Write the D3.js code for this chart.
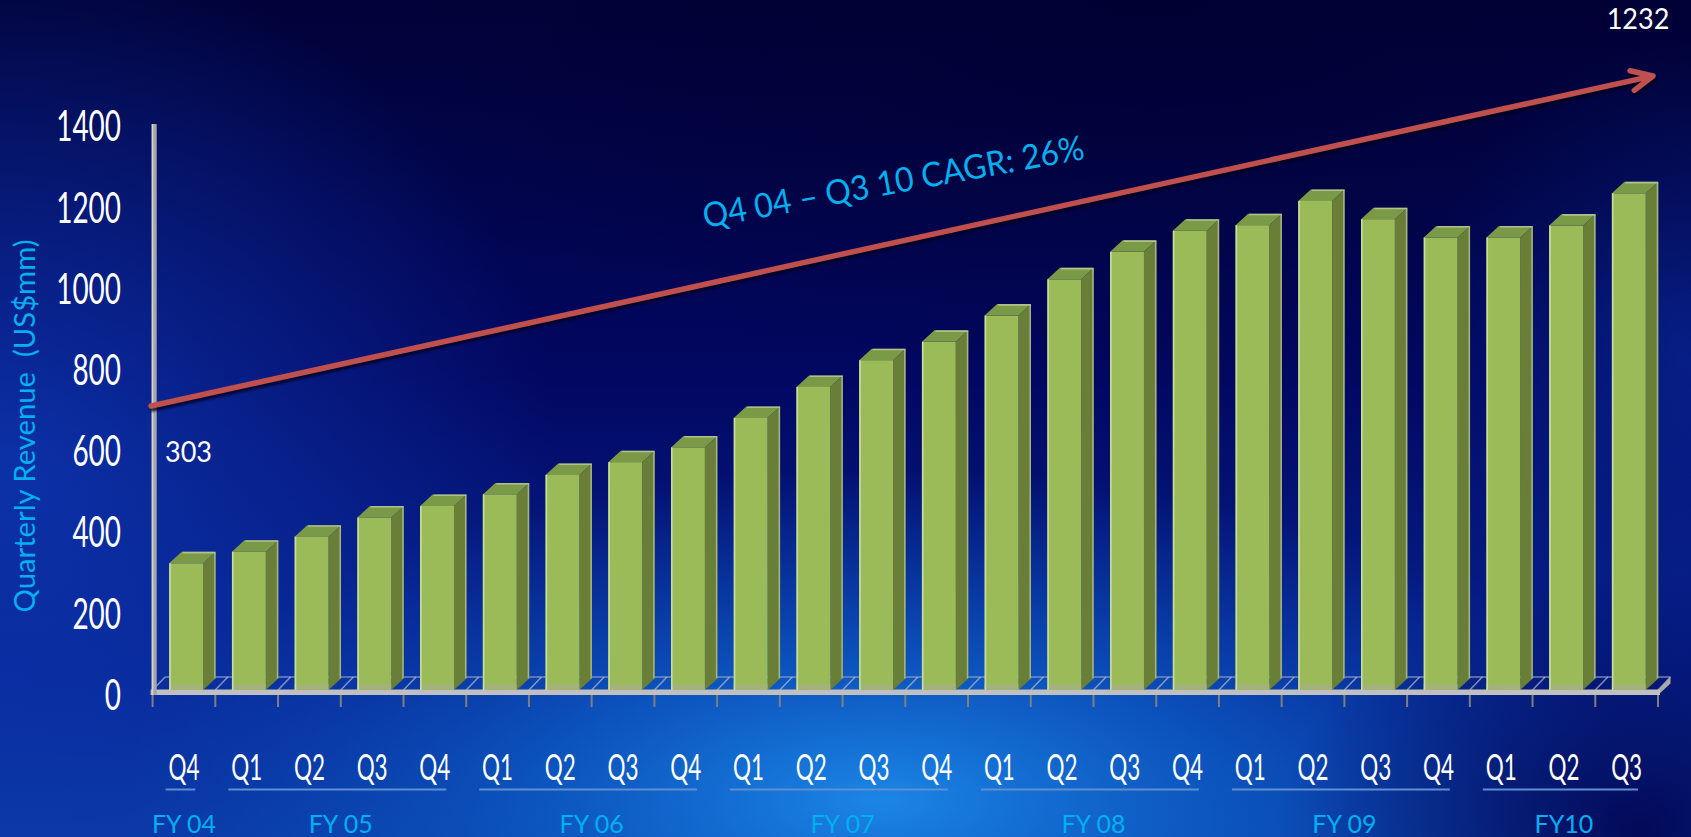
<!DOCTYPE html>
<html>
<head>
<meta charset="utf-8">
<script src="https://cdn.jsdelivr.net/npm/d3@7"></script>
<style>
  html, body { margin: 0; padding: 0; background: #02064f; overflow: hidden; }
  svg { display: block; }
</style>
</head>
<body>
<svg id="chart" width="1691" height="837"></svg>
<script>
// ---- data -------------------------------------------------------------
const quarterLabels = ["Q4",
  "Q1", "Q2", "Q3", "Q4",
  "Q1", "Q2", "Q3", "Q4",
  "Q1", "Q2", "Q3", "Q4",
  "Q1", "Q2", "Q3", "Q4",
  "Q1", "Q2", "Q3", "Q4",
  "Q1", "Q2", "Q3"];
const fiscalYears = ["FY 04", "FY 05", "FY 06", "FY 07", "FY 08", "FY 09", "FY10"];
const quartersPerYear = [1, 4, 4, 4, 4, 4, 3];
// quarterly revenue, US$mm
const revenue = [303,
  332, 370, 418, 447,
  476, 525, 557, 594,
  668, 746, 813, 859,
  925, 1016, 1085, 1138,
  1152, 1213, 1167, 1121,
  1121, 1151, 1232];
const yTicks = [0, 200, 400, 600, 800, 1000, 1200, 1400];
const axisTitle = "Quarterly Revenue  (US$mm)";
const cagrLabel = "Q4 04 \u2013 Q3 10 CAGR: 26%";

// ---- derived records ----------------------------------------------------
const yearOfPeriod = [];
quartersPerYear.forEach((n, g) => { for (let k = 0; k < n; k++) yearOfPeriod.push(g); });
const periods = quarterLabels.map((q, i) => ({
  key: fiscalYears[yearOfPeriod[i]] + " " + q,
  q, fy: yearOfPeriod[i], value: revenue[i]
}));

// ---- layout -------------------------------------------------------------
const W = 1691, H = 837;
const svg = d3.select("#chart");
const defs = svg.append("defs");

const x = d3.scaleBand().domain(periods.map(d => d.key)).range([152.6, 1658]).padding(0);
const y = d3.scaleLinear().domain([0, 1400]).range([684, 126.4]);       // bar front faces
const yWall = d3.scaleLinear().domain([0, 1400]).range([694, 125.5]);   // back-wall labels
const FLOOR = 690;          // front edge of the floor plate
const DX = 12.5, DY = 11.5; // 3-D depth offset
const bw = x.bandwidth();
const barX = d => x(d.key) + bw * 0.265;
const barW = bw * 0.54;

// ---- background ---------------------------------------------------------
function linear(id, stops, x1, y1, x2, y2) {
  const g = defs.append("linearGradient").attr("id", id)
    .attr("gradientUnits", "userSpaceOnUse")
    .attr("x1", x1).attr("y1", y1).attr("x2", x2).attr("y2", y2);
  stops.forEach(s => g.append("stop").attr("offset", s[0]).attr("stop-color", s[1]).attr("stop-opacity", s[2] ?? 1));
}
function radial(id, cx, cy, rx, ry, stops) {
  const g = defs.append("radialGradient").attr("id", id)
    .attr("gradientUnits", "userSpaceOnUse")
    .attr("cx", 0).attr("cy", 0).attr("r", 1)
    .attr("gradientTransform", `translate(${cx},${cy}) scale(${rx},${ry})`);
  stops.forEach(s => g.append("stop").attr("offset", s[0]).attr("stop-color", s[1]).attr("stop-opacity", s[2]));
}
linear("bgBase", [[0, "#010239"], [0.45, "#020761"], [0.8, "#06228f"], [1, "#0a3aa4"]], 0, 0, 0, H);
radial("glowLeft", 0, 470, 560, 520, [[0, "#0e3ab6", 0.8], [1, "#0e3ab6", 0]]);
radial("glowBottom", 880, 800, 760, 330, [[0, "#1b86e6", 1], [0.45, "#0d5fc8", 0.75], [1, "#0a4ab8", 0]]);
radial("glowRight", 1691, 360, 280, 320, [[0, "#0b32a6", 0.55], [1, "#0b32a6", 0]]);
radial("darkCorner", 1640, 830, 360, 260, [[0, "#020450", 0.9], [1, "#020450", 0]]);
radial("darkTop", 1150, 0, 900, 380, [[0, "#000030", 0.7], [1, "#000030", 0]]);

["bgBase", "glowLeft", "glowBottom", "glowRight", "darkCorner", "darkTop"].forEach(id =>
  svg.append("rect").attr("width", W).attr("height", H).attr("fill", `url(#${id})`));

// ---- floor ------------------------------------------------------------
const xStart = x.range()[0], xEnd = x.range()[1];
const floor = svg.append("g");
floor.append("line")
  .attr("x1", xStart + DX).attr("x2", xEnd + DX)
  .attr("y1", FLOOR - DY - 1.5).attr("y2", FLOOR - DY - 1.5)
  .attr("stroke", "#8a9cc8").attr("stroke-width", 1.5).attr("opacity", 0.8);
const boundaries = periods.map(d => x(d.key)).concat([xEnd]);
floor.selectAll("line.depth").data(boundaries).join("line").attr("class", "depth")
  .attr("x1", d => d).attr("y1", FLOOR)
  .attr("x2", d => d + DX).attr("y2", FLOOR - DY - 1.5)
  .attr("stroke", "#b8bcc8").attr("stroke-width", 1.5).attr("opacity", 0.7);
floor.append("path")
  .attr("d", `M${xEnd},${FLOOR} L${xEnd + DX},${FLOOR - DY - 1.5} L${xEnd + DX},${FLOOR - DY + 5} L${xEnd},${FLOOR + 5}Z`)
  .attr("fill", "#a9a9a9");

// ---- bars -------------------------------------------------------------
const bars = svg.append("g").selectAll("g").data(periods).join("g");
// side face
bars.append("path")
  .attr("d", d => {
    const xr = barX(d) + barW, yt = y(d.value);
    return `M${xr},${yt} L${xr + DX},${yt - DY} L${xr + DX},${FLOOR - DY} L${xr},${FLOOR}Z`;
  })
  .attr("fill", "#697e37");
bars.append("line")
  .attr("x1", d => barX(d) + barW + DX - 0.8).attr("x2", d => barX(d) + barW + DX - 0.8)
  .attr("y1", d => y(d.value) - DY + 1).attr("y2", FLOOR - DY)
  .attr("stroke", "#a5b386").attr("stroke-width", 1.5);
// top face
bars.append("path")
  .attr("d", d => {
    const x0 = barX(d), yt = y(d.value);
    return `M${x0},${yt} L${x0 + barW},${yt} L${x0 + barW + DX},${yt - DY} L${x0 + DX},${yt - DY}Z`;
  })
  .attr("fill", "#7b9a47");
bars.append("line")
  .attr("x1", d => barX(d) + DX + 1).attr("x2", d => barX(d) + barW + DX)
  .attr("y1", d => y(d.value) - DY + 0.8).attr("y2", d => y(d.value) - DY + 0.8)
  .attr("stroke", "#c3cfa2").attr("stroke-width", 1.6).attr("opacity", 0.75);
// front face
bars.append("rect")
  .attr("x", d => barX(d)).attr("y", d => y(d.value))
  .attr("width", barW).attr("height", d => FLOOR - y(d.value))
  .attr("fill", "#9bbb59");
bars.append("rect")
  .attr("x", d => barX(d)).attr("y", y(0))
  .attr("width", barW).attr("height", FLOOR - y(0))
  .attr("fill", "#a7ae88").attr("opacity", 0.7);
bars.append("line")
  .attr("x1", d => barX(d) + 0.8).attr("x2", d => barX(d) + 0.8)
  .attr("y1", d => y(d.value)).attr("y2", FLOOR)
  .attr("stroke", "#c9dca2").attr("stroke-width", 1.6);

// floor plate and category ticks
floor.append("rect").attr("x", xStart - 2).attr("y", FLOOR - 0.5)
  .attr("width", xEnd - xStart + 4).attr("height", 5.5).attr("fill", "#c0c0c0");
svg.append("g").selectAll("line").data(boundaries).join("line")
  .attr("x1", d => d).attr("x2", d => d)
  .attr("y1", FLOOR + 5).attr("y2", FLOOR + 17)
  .attr("stroke", "#7f7f7f").attr("stroke-width", 2);

// ---- value axis ---------------------------------------------------------
svg.append("rect").attr("x", 151.7).attr("y", 124).attr("width", 5).attr("height", FLOOR + 5 - 124)
  .attr("fill", "#a6a6a6");
svg.append("rect").attr("x", 151.7).attr("y", 124).attr("width", 1.6).attr("height", FLOOR + 5 - 124)
  .attr("fill", "#d4d4d4");

const yAxisG = svg.append("g").attr("transform", "translate(121,0)")
  .call(d3.axisLeft(yWall).tickValues(yTicks).tickSize(0).tickPadding(0).tickFormat(d3.format("d")));
yAxisG.select(".domain").remove();
yAxisG.selectAll("text")
  .attr("x", 0).attr("dy", "0.364em")
  .attr("fill", "#ffffff")
  .style("font-family", "Lato, 'Liberation Sans', sans-serif")
  .style("font-size", "42px")
  .attr("textLength", d => 16.2 * String(d).length)
  .attr("lengthAdjust", "spacingAndGlyphs");

svg.append("text")
  .attr("transform", "translate(35,426) rotate(-90)")
  .attr("text-anchor", "middle")
  .attr("fill", "#00b0f0")
  .style("font-family", "Lato, 'Open Sans', sans-serif")
  .style("font-size", "28px")
  .attr("textLength", 373).attr("lengthAdjust", "spacingAndGlyphs")
  .attr("xml:space", "preserve")
  .text(axisTitle);

// ---- category axis ------------------------------------------------------
const xAxisG = svg.append("g").attr("transform", "translate(0,780)")
  .call(d3.axisBottom(x).tickSize(0).tickPadding(0).tickFormat((k, i) => quarterLabels[i]));
xAxisG.select(".domain").remove();
xAxisG.selectAll("text")
  .attr("y", 0).attr("dy", 0)
  .attr("fill", "#ffffff")
  .style("font-family", "Lato, 'Liberation Sans', sans-serif")
  .style("font-size", "36px")
  .attr("textLength", 31)
  .attr("lengthAdjust", "spacingAndGlyphs");

// fiscal-year groups
let cursor = 0;
const groups = fiscalYears.map((fy, g) => {
  const first = periods[cursor], last = periods[cursor + quartersPerYear[g] - 1];
  cursor += quartersPerYear[g];
  return { fy, x0: x(first.key), x1: x(last.key) + bw };
});
const fyG = svg.append("g");
fyG.selectAll("line").data(groups).join("line")
  .attr("x1", d => d.x0 + 13).attr("x2", d => d.x1 - 20)
  .attr("y1", 789.5).attr("y2", 789.5)
  .attr("stroke", "#5f8fd0").attr("stroke-width", 2);
fyG.selectAll("text").data(groups).join("text")
  .attr("x", d => (d.x0 + d.x1) / 2).attr("y", 833)
  .attr("text-anchor", "middle")
  .attr("fill", "#00b0f0")
  .style("font-family", "Lato, 'Open Sans', sans-serif")
  .style("font-size", "25px")
  .text(d => d.fy);

// ---- growth arrow -----------------------------------------------------
const a0 = [151, 406], a1 = [1653, 76];
const ang = Math.atan2(a1[1] - a0[1], a1[0] - a0[0]);
const ux = Math.cos(ang), uy = Math.sin(ang), nx = -uy, ny = ux;
const head = s => [a1[0] - 21.3 * ux + s * 10 * nx, a1[1] - 21.3 * uy + s * 10 * ny];
const arrowPath = `M${a0[0]},${a0[1]} L${a1[0] - 2 * ux},${a1[1] - 2 * uy} M${head(-1)} L${a1} L${head(1)}`;
defs.append("filter").attr("id", "soft").append("feGaussianBlur").attr("stdDeviation", 0.8);
svg.append("path").attr("d", arrowPath)
  .attr("transform", "translate(1.5,3)")
  .attr("fill", "none").attr("stroke", "#00001a").attr("stroke-width", 5.5)
  .attr("stroke-linecap", "round").attr("stroke-linejoin", "round")
  .attr("opacity", 0.75).attr("filter", "url(#soft)");
svg.append("path").attr("d", arrowPath)
  .attr("fill", "none").attr("stroke", "#c0504d").attr("stroke-width", 5.5)
  .attr("stroke-linecap", "round").attr("stroke-linejoin", "round");

svg.append("text")
  .attr("transform", "translate(895.4,193.4) rotate(-10.3)")
  .attr("text-anchor", "middle")
  .attr("fill", "#00b0f0")
  .style("font-family", "Lato, 'Open Sans', sans-serif")
  .style("font-size", "34px")
  .attr("textLength", 387).attr("lengthAdjust", "spacingAndGlyphs")
  .text(cagrLabel);

// ---- end-point value labels ---------------------------------------------
const firstP = periods[0], lastP = periods[periods.length - 1];
svg.append("text")
  .attr("x", 165).attr("y", 461.7)
  .attr("fill", "#ffffff")
  .style("font-family", "Lato, 'Open Sans', sans-serif")
  .style("font-size", "29px")
  .attr("textLength", 47).attr("lengthAdjust", "spacingAndGlyphs")
  .text(firstP.value);
svg.append("text")
  .attr("x", 1606.7).attr("y", 29.3)
  .attr("fill", "#ffffff")
  .style("font-family", "Lato, 'Open Sans', sans-serif")
  .style("font-size", "28px")
  .attr("textLength", 62.7).attr("lengthAdjust", "spacingAndGlyphs")
  .text(lastP.value);
</script>
</body>
</html>
